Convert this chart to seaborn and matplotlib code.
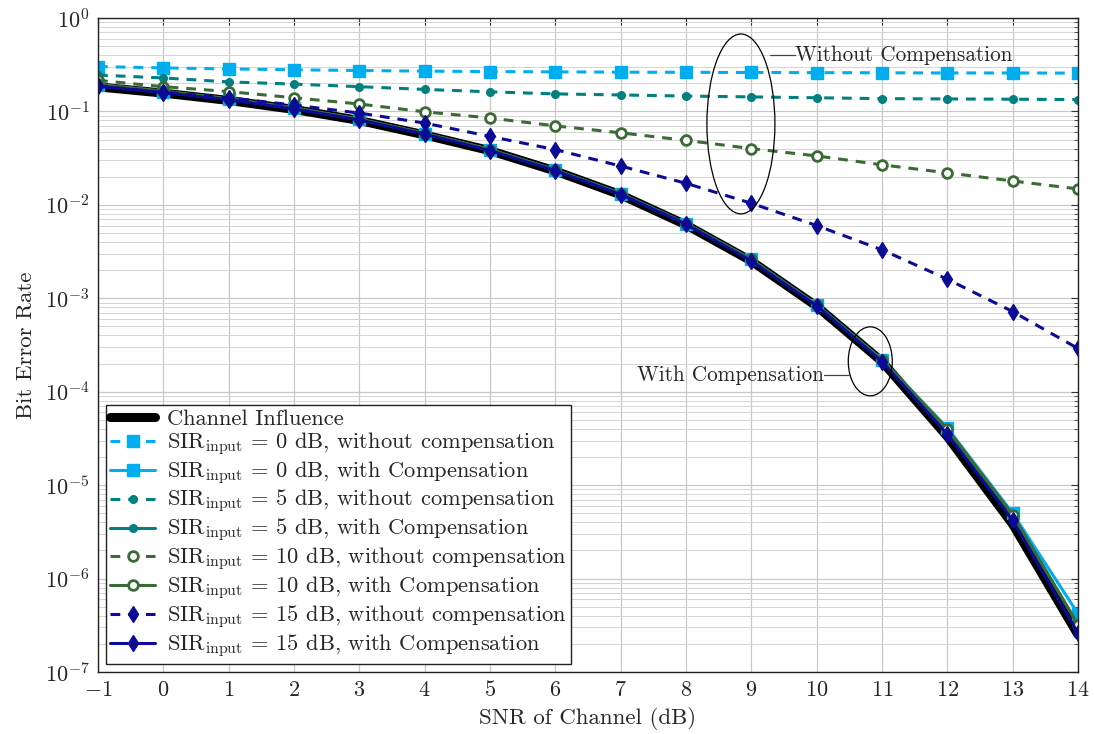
import numpy as np
import pandas as pd
import matplotlib
matplotlib.use("Agg")
import matplotlib.pyplot as plt
import seaborn as sns
from matplotlib.patches import Ellipse

snr = list(range(-1, 15))

channel = [0.183, 0.157, 0.131, 0.105, 0.080, 0.056, 0.038, 0.0230, 0.0128, 0.0061,
           0.0025, 0.00082, 0.00021, 3.3e-5, 3.8e-6, 2.5e-7]

sir0_wo = [0.302, 0.292, 0.285, 0.279, 0.274, 0.270, 0.267, 0.265, 0.263, 0.262,
           0.261, 0.260, 0.259, 0.258, 0.258, 0.257]
sir0_w = [0.190, 0.162, 0.135, 0.108, 0.082, 0.058, 0.039, 0.0236, 0.0132, 0.0063,
          0.0026, 0.00085, 0.00022, 4.1e-5, 5.0e-6, 4.2e-7]
sir5_wo = [0.245, 0.228, 0.207, 0.196, 0.184, 0.172, 0.162, 0.154, 0.150, 0.146,
           0.143, 0.140, 0.137, 0.136, 0.135, 0.134]
sir5_w = [0.192, 0.163, 0.136, 0.108, 0.082, 0.058, 0.039, 0.0235, 0.0131, 0.0063,
          0.0026, 0.00084, 0.00022, 3.9e-5, 4.8e-6, 3.2e-7]
sir10_wo = [0.215, 0.184, 0.163, 0.140, 0.120, 0.099, 0.085, 0.070, 0.059, 0.049,
            0.040, 0.0334, 0.0268, 0.0220, 0.0180, 0.0148]
sir10_w = [0.195, 0.165, 0.137, 0.109, 0.083, 0.058, 0.039, 0.0236, 0.0131, 0.0063,
           0.0026, 0.00084, 0.00022, 4.0e-5, 4.8e-6, 3.2e-7]
sir15_wo = [0.187, 0.160, 0.140, 0.117, 0.096, 0.075, 0.054, 0.039, 0.026, 0.017,
            0.0104, 0.0060, 0.0033, 0.0016, 0.00072, 0.00029]
sir15_w = [0.186, 0.159, 0.133, 0.106, 0.081, 0.057, 0.038, 0.0232, 0.0129, 0.0062,
           0.0025, 0.00083, 0.00021, 3.5e-5, 4.2e-6, 2.6e-7]

c0, c5, c10, c15 = "#00aeef", "#008080", "#3a6b35", "#0b0b96"

sns.set_style("whitegrid")
plt.rcParams["font.family"] = "serif"
plt.rcParams["font.serif"] = ["cmr10", "DejaVu Serif"]
plt.rcParams["mathtext.fontset"] = "cm"
plt.rcParams["axes.formatter.use_mathtext"] = True
plt.rcParams["axes.unicode_minus"] = True

fig = plt.figure(figsize=(10.94, 7.34), dpi=100)
ax = fig.add_axes([0.0896, 0.0845, 0.8958, 0.891])

sns.lineplot(x=snr, y=channel, ax=ax, color="black", lw=6.5, label="Channel Influence")

series = [
    (sir0_wo, c0, "--", "s", 9, True, r"SIR$_{\mathrm{input}}$ = 0 dB, without compensation"),
    (sir0_w, c0, "-", "s", 9, True, r"SIR$_{\mathrm{input}}$ = 0 dB, with Compensation"),
    (sir5_wo, c5, "--", "o", 5.5, True, r"SIR$_{\mathrm{input}}$ = 5 dB, without compensation"),
    (sir5_w, c5, "-", "o", 5.5, True, r"SIR$_{\mathrm{input}}$ = 5 dB, with Compensation"),
    (sir10_wo, c10, "--", "o", 7, False, r"SIR$_{\mathrm{input}}$ = 10 dB, without compensation"),
    (sir10_w, c10, "-", "o", 7, False, r"SIR$_{\mathrm{input}}$ = 10 dB, with Compensation"),
    (sir15_wo, c15, "--", "d", 8, True, r"SIR$_{\mathrm{input}}$ = 15 dB, without compensation"),
    (sir15_w, c15, "-", "d", 8, True, r"SIR$_{\mathrm{input}}$ = 15 dB, with Compensation"),
]

for vals, col, ls, mk, ms, filled, lab in series:
    kw = dict(color=col, lw=2.2, marker=mk, markersize=ms, label=lab,
              markeredgecolor=col, markerfacecolor=col if filled else "white",
              markeredgewidth=2 if not filled else 1)
    if ls == "--":
        kw["dashes"] = (3.2, 2.6)
    sns.lineplot(x=snr, y=vals, ax=ax, **kw)

ax.set_yscale("log")
ax.set_xlim(-1, 14)
ax.set_ylim(1e-7, 1)
ax.set_xticks(snr)
ax.set_xticklabels([f"${v}$" if v >= 0 else f"$-{abs(v)}$" for v in snr])
ax.set_yticks([10.0 ** k for k in range(-7, 1)])
ax.yaxis.set_minor_locator(matplotlib.ticker.LogLocator(base=10, subs=np.arange(2, 10), numticks=20))
ax.yaxis.set_minor_formatter(matplotlib.ticker.NullFormatter())

ax.grid(True, which="major", color="#c8c8c8", lw=0.9)
ax.grid(True, which="minor", axis="y", color="#d4d4d4", lw=0.7)
ax.tick_params(which="both", direction="in", top=True, right=True, labelsize=16, color="#333333")
ax.tick_params(which="major", length=5, pad=6)
ax.tick_params(which="minor", length=3)
for s in ax.spines.values():
    s.set_edgecolor("#222222")
    s.set_linewidth(1.0)

ax.set_xlabel("SNR of Channel (dB)", fontsize=16.5, labelpad=5)
ax.set_ylabel("Bit Error Rate", fontsize=16.5, labelpad=6)

leg = ax.legend(loc="lower left", fontsize=16.2, frameon=True, fancybox=False,
                edgecolor="#222222", framealpha=1, handlelength=2.0, borderpad=0.2,
                labelspacing=0.08, handletextpad=0.5, borderaxespad=0.35)
leg.get_frame().set_linewidth(1.0)

# annotation ellipses (axes fraction)
ax.add_patch(Ellipse((0.656, 0.838), 0.0694, 0.275, transform=ax.transAxes,
                     fill=False, ec="black", lw=0.9, zorder=10))
ax.add_patch(Ellipse((0.788, 0.475), 0.0449, 0.1055, transform=ax.transAxes,
                     fill=False, ec="black", lw=0.9, zorder=10))
ax.plot([0.686, 0.711], [0.943, 0.943], transform=ax.transAxes, color="#444444", lw=0.9, zorder=10)
ax.text(0.711, 0.943, "Without Compensation", transform=ax.transAxes, fontsize=15.3,
        va="center", ha="left", zorder=10)
ax.plot([0.741, 0.766], [0.454, 0.454], transform=ax.transAxes, color="#444444", lw=0.9, zorder=10)
ax.text(0.741, 0.454, "With Compensation", transform=ax.transAxes, fontsize=15.3,
        va="center", ha="right", zorder=10)

fig.savefig("out.png", dpi=100)
